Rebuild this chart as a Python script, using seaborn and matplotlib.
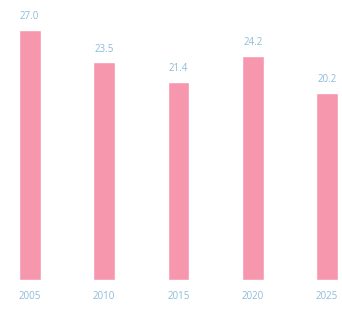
import pandas as pd
import matplotlib
matplotlib.use("Agg")
import matplotlib.pyplot as plt
import seaborn as sns

# values
years = ["2005", "2010", "2015", "2020", "2025"]
values = [27.0, 23.5, 21.4, 24.2, 20.2]
value_labels = ["27.0", "23.5", "21.4", "24.2", "20.2"]

df = pd.DataFrame({"year": years, "value": values})

sns.set_style("white")
plt.rcParams["font.family"] = ["Open Sans", "DejaVu Sans"]

fig = plt.figure(figsize=(3.42, 3.13), dpi=100)
ax = fig.add_axes([0, 0, 1, 1])

sns.barplot(data=df, x="year", y="value", color="#f797ae", saturation=1,
            width=0.29, ax=ax)

label_color = "#8dbcd9"
for i, p in enumerate(ax.patches):
    cx = p.get_x() + p.get_width() / 2
    ax.text(cx, p.get_height() + 1.4, value_labels[i], ha="center", va="center",
            fontsize=7, color=label_color)
    ax.text(cx, -1.75, years[i], ha="center", va="center",
            fontsize=7, color=label_color)

ax.set_xlim(-0.40, 4.20)
ax.set_ylim(-3.56, 30.2)
ax.axis("off")

fig.savefig("out.png", dpi=100, facecolor="white")
